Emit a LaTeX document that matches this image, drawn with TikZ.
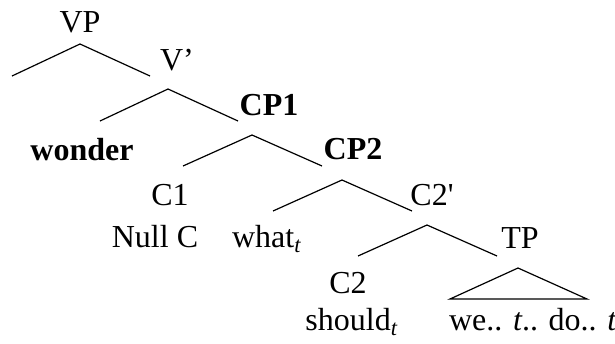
\documentclass[tikz,border=0pt]{standalone}
\usepackage{fontspec}
\setmainfont{Liberation Serif}
\usepackage{tikz}

\begin{document}
\begin{tikzpicture}[x=0.5pt, y=-0.5pt,
  lbl/.style={anchor=base, inner sep=0pt, font=\fontsize{16}{19}\selectfont},
  branch/.style={line width=0.6pt}]
  \useasboundingbox (0,0) rectangle (615,343);
  % category labels
  \node[lbl] (vp) at (80,32) {VP};
  \node[lbl] (vbar) at (177,70) {V’};
  \node[lbl] (cpone) at (269,115) {\textbf{CP1}};
  \node[lbl] (wonder) at (82,160) {\textbf{wonder}};
  \node[lbl] (cptwo) at (353,159) {\textbf{CP2}};
  \node[lbl] (cone) at (170,205) {C1};
  \node[lbl] (ctwobar) at (432,205) {C2\textquotesingle};
  \node[lbl] (nullc) at (155,247) {Null C};
  \node[lbl] (what) at (267,247) {what\textsubscript{\textit{t}}};
  \node[lbl] (tp) at (520,248) {TP};
  \node[lbl] (ctwo) at (348,293) {C2};
  \node[lbl] (should) at (352,330) {should\textsubscript{\textit{t}}};
  \node[lbl] (we) at (533,330) {we.. \textit{t}.. do.. \textit{t}};
  % branch points
  \coordinate (vptop) at (80,44);   \coordinate (vpl) at (12,76);   \coordinate (vpr) at (150,76);
  \coordinate (vbtop) at (168,89);  \coordinate (vbl) at (100,121); \coordinate (vbr) at (238,121);
  \coordinate (c1top) at (252,135); \coordinate (c1l) at (183,166); \coordinate (c1r) at (322,166);
  \coordinate (c2top) at (342,180); \coordinate (c2l) at (273,211); \coordinate (c2r) at (412,211);
  \coordinate (cbtop) at (427,225); \coordinate (cbl) at (358,256); \coordinate (cbr) at (497,256);
  \coordinate (tptop) at (518,268); \coordinate (tpl) at (450,299); \coordinate (tpr) at (587,299);
  % branches
  \draw[branch] (vpl) -- (vptop) -- (vpr);
  \draw[branch] (vbl) -- (vbtop) -- (vbr);
  \draw[branch] (c1l) -- (c1top) -- (c1r);
  \draw[branch] (c2l) -- (c2top) -- (c2r);
  \draw[branch] (cbl) -- (cbtop) -- (cbr);
  \draw[branch] (tpl) -- (tptop) -- (tpr) -- cycle;
\end{tikzpicture}
\end{document}
